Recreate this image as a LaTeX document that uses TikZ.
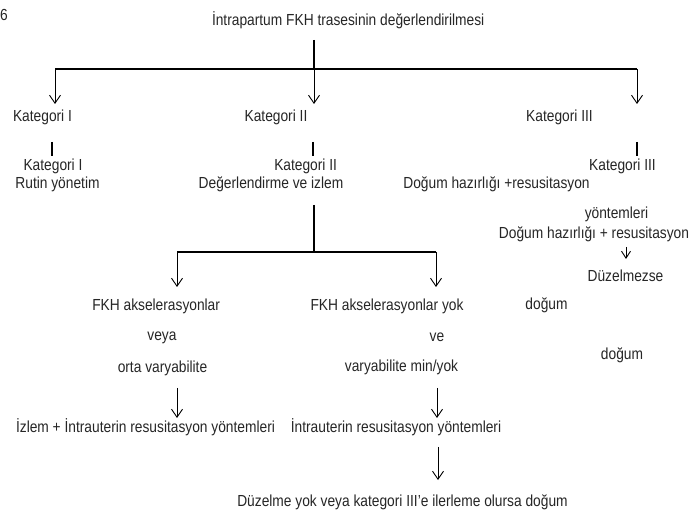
\documentclass[tikz,border=0pt]{standalone}
\usepackage{fontspec}
\setmainfont{Liberation Sans}[FakeStretch=0.86]
\usetikzlibrary{arrows.meta}
\begin{document}
\begin{tikzpicture}[x=1pt,y=-1pt,
  every node/.style={inner sep=0pt,outer sep=0pt,font=\fontsize{16}{18}\selectfont,text=black!85},
  bar/.style={line width=2.2pt,draw=black},
  tick/.style={line width=1.6pt,draw=black},
  arr/.style={line width=0.9pt,draw=black,-{Straight Barb[length=8pt,width=11pt,line width=0.9pt]}},
  sarr/.style={line width=0.9pt,draw=black,-{Straight Barb[length=7pt,width=9pt,line width=0.9pt]}}]
\fill[white] (0,0) rectangle (691,518);
\useasboundingbox (0,0) rectangle (691,518);
% texts
\node[anchor=west] (six) at (0,15) {6};
\node[anchor=west] (title) at (212,20) {İntrapartum FKH trasesinin değerlendirilmesi};
\node (k1a) at (42.5,117) {Kategori I};
\node (k2a) at (276,117) {Kategori II};
\node (k3a) at (559.5,117) {Kategori III};
\node (k1b) at (53,166.5) {Kategori I};
\node (k1c) at (57.5,184) {Rutin yönetim};
\node[anchor=east] (k2b) at (337,166.5) {Kategori II};
\node (k2c) at (271,184) {Değerlendirme ve izlem};
\node (k3b) at (622.5,166) {Kategori III};
\node (k3c) at (496.5,184) {Doğum hazırlığı +resusitasyon};
\node (k3d) at (616.5,214) {yöntemleri};
\node[anchor=east] (k3e) at (689,234) {Doğum hazırlığı + resusitasyon};
\node (k3f) at (625.5,276) {Düzelmezse};
\node (k3g) at (546.5,305) {doğum};
\node (k3h) at (622,355) {doğum};
\node[anchor=east] (a1) at (220,306) {FKH akselerasyonlar};
\node (a2) at (162,338) {veya};
\node (a3) at (162.5,368) {orta varyabilite};
\node (a4) at (145.5,427) {İzlem + İntrauterin resusitasyon yöntemleri};
\node (b1) at (387,306) {FKH akselerasyonlar yok};
\node (b2) at (437,337) {ve};
\node (b3) at (401.5,367) {varyabilite min/yok};
\node (b4) at (396,427) {İntrauterin resusitasyon yöntemleri};
\node (b5) at (402.5,502) {Düzelme yok veya kategori III’e ilerleme olursa doğum};
% coordinates
\coordinate (t0) at (314,40);
\coordinate (tj) at (314,69);
\coordinate (tl) at (55,69);
\coordinate (tr) at (637,69);
\coordinate (e1) at (55,104);
\coordinate (e2) at (314,104);
\coordinate (e3) at (637,104);
\coordinate (m0) at (314,205);
\coordinate (mj) at (314,252);
\coordinate (ml) at (177,252);
\coordinate (mr) at (436,252);
\coordinate (f1) at (177,287);
\coordinate (f2) at (436,287);
\coordinate (g1s) at (177,388);
\coordinate (g1e) at (177,418);
\coordinate (g2s) at (437,388);
\coordinate (g2e) at (437,418);
\coordinate (h0) at (438,447);
\coordinate (h1) at (438,480);
\coordinate (s0) at (626,247);
\coordinate (s1) at (626,259);
% top tree
\draw[bar] (t0) -- (tj);
\draw[bar] (tl) -- (tr);
\draw[arr] (tl) -- (e1);
\draw[arr] (tj) -- (e2);
\draw[arr] (tr) -- (e3);
% ticks
\draw[tick] (52,142) -- (52,156);
\draw[tick] (313,142) -- (313,156);
\draw[tick] (637,142) -- (637,156);
% middle tree
\draw[bar] (m0) -- (mj);
\draw[bar] (ml) -- (mr);
\draw[arr] (ml) -- (f1);
\draw[arr] (mr) -- (f2);
\draw[arr] (g1s) -- (g1e);
\draw[arr] (g2s) -- (g2e);
\draw[arr] (h0) -- (h1);
\draw[sarr] (s0) -- (s1);
\end{tikzpicture}
\end{document}
